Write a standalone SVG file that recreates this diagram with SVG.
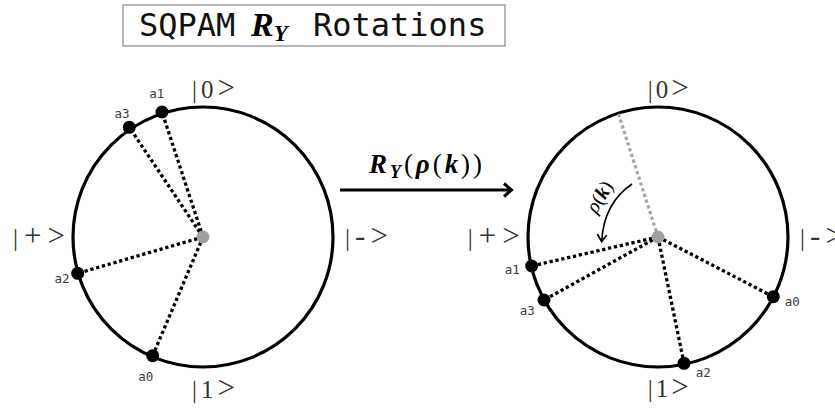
<svg xmlns="http://www.w3.org/2000/svg" width="835" height="409" viewBox="0 0 835 409">
<style>
.circ{fill:none;stroke:#000;stroke-width:3.2}
.spoke{stroke:#000;stroke-width:3.3;stroke-dasharray:3.3 2.7;fill:none}
.gspoke{stroke:#a8a8a8;stroke-width:3.3;stroke-dasharray:3.3 2.7;fill:none}
.dot{fill:#000}
.ctr{fill:#a0a0a0}
.lbl{font-family:"DejaVu Sans Mono",monospace;font-size:12.5px;fill:#3a3a3a;text-anchor:middle}
.ket{font-family:"Liberation Serif","DejaVu Serif",serif;font-size:25px;fill:#333}
.big{font-size:31px}
.math{font-family:"Liberation Serif","DejaVu Serif",serif;fill:#000}
.bi{font-weight:bold;font-style:italic}
.it{font-style:italic}
.mono{font-family:"DejaVu Sans Mono",monospace;font-size:32px;fill:#111}
</style>
<rect width="835" height="409" fill="#fff"/>

<g id="title">
  <rect x="123" y="5" width="382" height="41" fill="#fff" stroke="#888" stroke-width="1.2"/>
  <text x="139" y="36" class="mono">SQPAM</text>
  <text x="251" y="36" class="math"><tspan class="bi" font-size="34">R</tspan><tspan class="bi" font-size="23" dy="5">Y</tspan></text>
  <text x="313" y="36" class="mono">Rotations</text>
</g>

<g id="connectors">
  <line x1="340" y1="190" x2="510" y2="190" stroke="#000" stroke-width="3"/>
  <polyline points="504,183.5 511.5,190 504,196.5" fill="none" stroke="#000" stroke-width="3"/>
  <text class="math" x="369" y="173" font-size="27" textLength="113" lengthAdjust="spacing"><tspan class="bi">R</tspan><tspan class="bi" font-size="18" dy="5">Y</tspan><tspan dy="-5">(</tspan><tspan class="bi">ρ</tspan><tspan>(</tspan><tspan class="bi">k</tspan><tspan>))</tspan></text>
</g>

<g id="left-circle">
  <circle class="circ" cx="203" cy="237" r="130"/>
  <line class="spoke" x1="203" y1="237" x2="162" y2="112"/>
  <line class="spoke" x1="203" y1="237" x2="129.3" y2="127.3"/>
  <line class="spoke" x1="203" y1="237" x2="77.7" y2="273.3"/>
  <line class="spoke" x1="203" y1="237" x2="152.7" y2="355.7"/>
  <circle class="ctr" cx="203" cy="237" r="6.5"/>
  <circle class="dot" cx="162" cy="112" r="6.5"/>
  <circle class="dot" cx="129.3" cy="127.3" r="6.5"/>
  <circle class="dot" cx="77.7" cy="273.3" r="6.5"/>
  <circle class="dot" cx="152.7" cy="355.7" r="6.5"/>
  <text class="lbl" x="156.7" y="97.5">a1</text>
  <text class="lbl" x="122" y="117.5">a3</text>
  <text class="lbl" x="62" y="282.5">a2</text>
  <text class="lbl" x="145.7" y="380.5">a0</text>
  <text class="ket" x="192" y="98" textLength="43" lengthAdjust="spacing">|0<tspan class="big">&gt;</tspan></text>
  <text class="ket" x="192" y="398" textLength="43" lengthAdjust="spacing">|1<tspan class="big">&gt;</tspan></text>
  <text class="ket" x="13" y="246" textLength="52" lengthAdjust="spacing">|<tspan class="big">+&gt;</tspan></text>
  <text class="ket" x="345" y="246" textLength="43" lengthAdjust="spacing">|<tspan class="big">-&gt;</tspan></text>
</g>

<g id="right-circle">
  <circle class="circ" cx="658" cy="237" r="130"/>
  <line class="gspoke" x1="658" y1="237" x2="618.3" y2="113.3"/>
  <line class="spoke" x1="658" y1="237" x2="531.7" y2="266"/>
  <line class="spoke" x1="658" y1="237" x2="544" y2="300"/>
  <line class="spoke" x1="658" y1="237" x2="773.3" y2="296.7"/>
  <line class="spoke" x1="658" y1="237" x2="684" y2="363.3"/>
  <circle class="ctr" cx="658" cy="237" r="6.5"/>
  <circle class="dot" cx="531.7" cy="266" r="6.5"/>
  <circle class="dot" cx="544" cy="300" r="6.5"/>
  <circle class="dot" cx="773.3" cy="296.7" r="6.5"/>
  <circle class="dot" cx="684" cy="363.3" r="6.5"/>
  <text class="lbl" x="512.3" y="273.8">a1</text>
  <text class="lbl" x="527.3" y="315.2">a3</text>
  <text class="lbl" x="792.3" y="305.5">a0</text>
  <text class="lbl" x="703.3" y="377.2">a2</text>
  <text class="ket" x="647.7" y="98" textLength="41" lengthAdjust="spacing">|0<tspan class="big">&gt;</tspan></text>
  <text class="ket" x="647.7" y="397" textLength="41" lengthAdjust="spacing">|1<tspan class="big">&gt;</tspan></text>
  <text class="ket" x="467.7" y="246" textLength="52" lengthAdjust="spacing">|<tspan class="big">+&gt;</tspan></text>
  <text class="ket" x="800" y="246" textLength="43" lengthAdjust="spacing">|<tspan class="big">-&gt;</tspan></text>
</g>

<g id="rotation-arrow">
  <path d="M632,184 Q604,203 601.7,241" fill="none" stroke="#000" stroke-width="1.6"/>
  <polyline points="597.3,234 601.7,241.7 606.7,235" fill="none" stroke="#000" stroke-width="1.6"/>
  <text class="math" font-size="20" text-anchor="middle" transform="translate(600,197) rotate(-58)" dy="6"><tspan class="it">ρ</tspan>(<tspan class="bi">k</tspan>)</text>
</g>
</svg>
